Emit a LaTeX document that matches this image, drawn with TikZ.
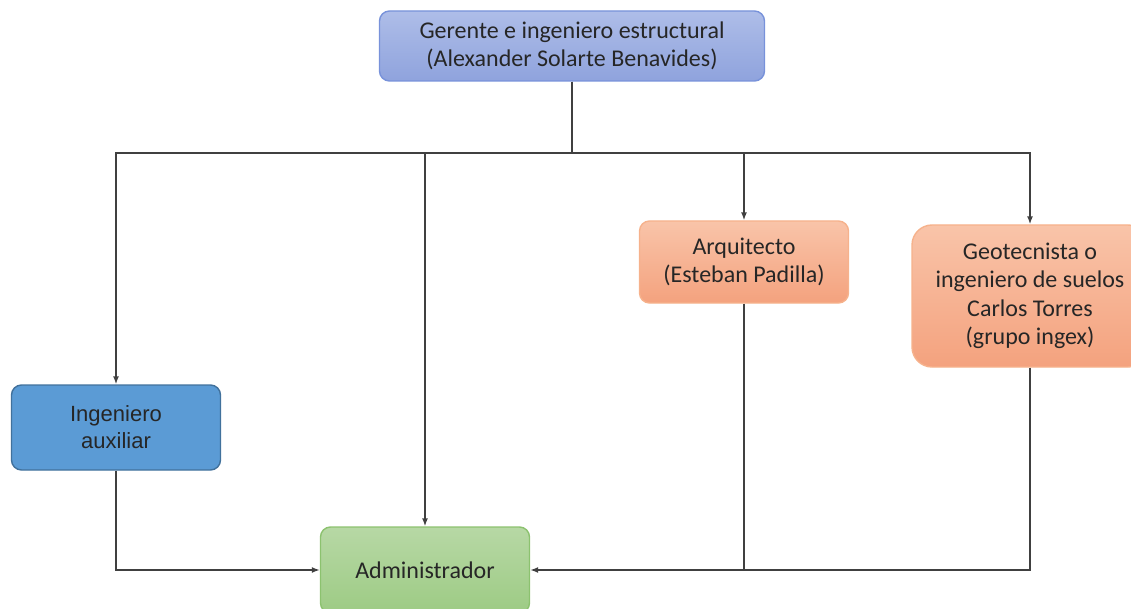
\documentclass[tikz,border=0pt]{standalone}
\usepackage{fontspec}
\setmainfont{Carlito}
\newfontfamily\arialfont{Liberation Sans}
\usetikzlibrary{arrows.meta}
\definecolor{txt}{RGB}{38,38,38}
\definecolor{wire}{RGB}{64,64,64}
\definecolor{blueTop}{RGB}{174,189,232}
\definecolor{blueBot}{RGB}{143,163,221}
\definecolor{blueEdge}{RGB}{120,146,218}
\definecolor{orTop}{RGB}{249,196,169}
\definecolor{orBot}{RGB}{244,162,126}
\definecolor{orEdge}{RGB}{246,178,140}
\definecolor{engFill}{RGB}{91,155,213}
\definecolor{engEdge}{RGB}{65,113,156}
\definecolor{grTop}{RGB}{183,216,165}
\definecolor{grBot}{RGB}{157,203,132}
\definecolor{grEdge}{RGB}{140,194,111}
\tikzset{
  box/.style={rounded corners=10pt, line width=1.4pt, align=center, text=txt,
    font=\fontsize{24}{28.5}\selectfont, inner sep=0pt},
  bluebox/.style={box, draw=blueEdge, top color=blueTop, bottom color=blueBot},
  orangebox/.style={box, draw=orEdge, top color=orTop, bottom color=orBot},
  engbox/.style={box, draw=engEdge, fill=engFill, font=\arialfont\fontsize{22}{27}\selectfont},
  greenbox/.style={box, draw=grEdge, top color=grTop, bottom color=grBot},
  wireline/.style={draw=wire, line width=1.5pt},
  arr/.style={wireline, -{Latex[length=8pt,width=6pt]}}
}
\begin{document}
\begin{tikzpicture}[x=1pt,y=-1pt]
\useasboundingbox (0,0) rectangle (1131,609);
\clip (0,0) rectangle (1131,609);

% boxes of the organisation chart
\node[bluebox, minimum width=385pt, minimum height=70pt] (top) at (572,46)
  {Gerente e ingeniero estructural\\(Alexander Solarte Benavides)};
\node[orangebox, minimum width=209pt, minimum height=82pt] (arq) at (744,262)
  {Arquitecto\\(Esteban Padilla)};
\node[orangebox, rounded corners=20pt, minimum width=236pt, minimum height=142pt] (geo) at (1030,296)
  {Geotecnista o\\ingeniero de suelos\\Carlos Torres\\(grupo ingex)};
\node[engbox, minimum width=209pt, minimum height=85pt] (ing) at (116,427.5)
  {Ingeniero\\auxiliar};
\node[greenbox, minimum width=209pt, minimum height=86pt] (adm) at (425,570)
  {Administrador};

% distribution bus under the manager
\coordinate (busL) at (116,153);
\coordinate (busR) at (1030,153);

\draw[arr] (top.south) |- (busL) -- (ing.north);
\draw[arr] (top.south) |- (busR) -- (geo.north);
\draw[arr] (top.south |- busL) -| (arq.north);
\draw[arr] (top.south |- busL) -| (adm.north);

% reporting lines into the administrator
\draw[arr] (ing.south) |- (adm.west);
\draw[arr] (geo.south) |- (adm.east);
\draw[wireline] (arq.south) -- (arq.south |- adm.east);
\end{tikzpicture}
\end{document}
